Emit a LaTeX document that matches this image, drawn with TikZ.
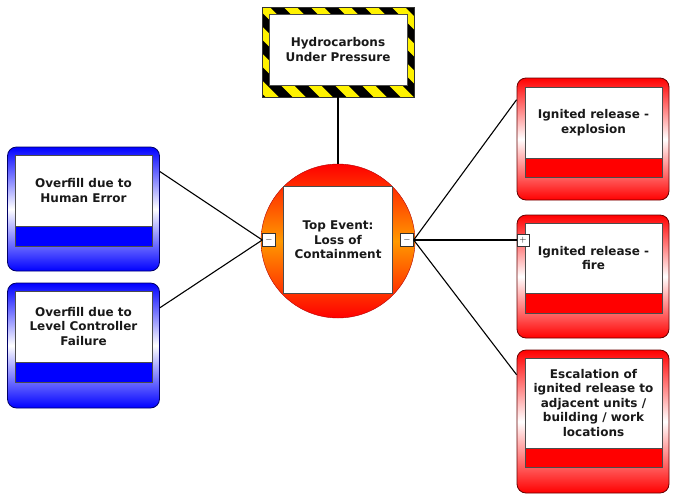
\documentclass[tikz,border=0pt]{standalone}
\usepackage{fontspec}
\setmainfont{DejaVu Sans}
\usetikzlibrary{positioning,calc}

\tikzset{
  txt/.style={font=\bfseries\fontsize{12}{14.5}\selectfont, align=center, text=black!90},
  outerbox/.style={rounded corners=9pt, line width=0.8pt, minimum width=152pt},
  causebox/.style={outerbox, draw=blue!40!black, top color=blue, bottom color=blue, middle color=white},
  conseqbox/.style={outerbox, draw=red!40!black, top color=red, bottom color=red, middle color=white},
  whitebox/.style={draw=black!70, fill=white, line width=0.6pt, minimum width=137pt},
  bluebar/.style={draw=black!70, fill=blue, line width=0.6pt, minimum width=137pt, minimum height=20pt},
  redbar/.style={draw=black!70, fill=red, line width=0.6pt, minimum width=137pt, minimum height=20pt},
  toggle/.style={draw=black!80, fill=white, minimum size=13pt, inner sep=0pt, font=\bfseries\small},
  link/.style={draw=black, line width=1.1pt}
}

\begin{document}
\begin{tikzpicture}[x=1pt, y=-1pt]
  \useasboundingbox (0,0) rectangle (675,499);

  % hazard
  \node[draw=black!80, fill=yellow, minimum width=152pt, minimum height=90pt, line width=0.8pt,
        path picture={
          \foreach \k in {0,...,10}
            \fill[black] ([xshift=\k*27pt-100pt]path picture bounding box.north west)
              -- ++(13.5pt,0pt) -- ++(100pt,-100pt) -- ++(-13.5pt,0pt) -- cycle;
        }] (hazard) at (338,52) {};
  \node[whitebox, minimum width=138pt, minimum height=71pt] (hazardtxt) at (338,49.5)
    {};
  \node[txt] at (hazardtxt) {Hydrocarbons\\Under Pressure};

  % top event
  \node[circle, draw=red!70!black, line width=0.4pt, minimum size=154pt, inner sep=0pt,
        top color=red, bottom color=red, middle color=orange!80!yellow] (top) at (338,241) {};
  \node[whitebox, minimum width=109pt, minimum height=107pt] (toptxt) at (338,240) {};
  \node[txt] at (toptxt) {Top Event:\\Loss of\\Containment};
  \node[toggle] (lminus) at (269,240) {$-$};
  \node[toggle] (rminus) at (407,240) {$-$};

  % threats
  \node[causebox, minimum height=124pt] (c1) at (83.5,209) {};
  \node[whitebox, minimum height=71pt] (c1t) at (83.5,190.5) {};
  \node[bluebar] (c1b) at (83.5,236) {};
  \node[txt] at (c1t) {Overfill due to\\Human Error};

  \node[causebox, minimum height=125pt] (c2) at (83.5,345.5) {};
  \node[whitebox, minimum height=71pt] (c2t) at (83.5,326.5) {};
  \node[bluebar] (c2b) at (83.5,372) {};
  \node[txt] at (c2t) {Overfill due to\\Level Controller\\Failure};

  % consequences
  \node[conseqbox, minimum height=122pt] (q1) at (593,139) {};
  \node[whitebox, minimum height=71pt] (q1t) at (593.5,122.5) {};
  \node[redbar, minimum height=19pt] (q1b) at (593.5,167.5) {};
  \node[txt] at (q1t) {Ignited release -\\explosion};

  \node[conseqbox, minimum height=123pt] (q2) at (593,276.5) {};
  \node[whitebox, minimum height=70pt] (q2t) at (593.5,258) {};
  \node[redbar] (q2b) at (593.5,303) {};
  \node[txt] at (q2t) {Ignited release -\\fire};
  \node[toggle, minimum size=12pt] (plus) at (523,240) {$+$};

  \node[conseqbox, minimum height=143pt] (q3) at (593,421.5) {};
  \node[whitebox, minimum height=90pt] (q3t) at (593.5,403) {};
  \node[redbar, minimum height=19pt] (q3b) at (593.5,457.5) {};
  \node[txt] at (q3t) {Escalation of\\ignited release to\\adjacent units /\\building / work\\locations};

  % connectors
  \draw[link] (hazard.south) -- (top.north);
  \draw[link] (lminus.west) -- ($(c1.north east)!0.2!(c1.south east)$);
  \draw[link] (lminus.west) -- ($(c2.north east)!0.2!(c2.south east)$);
  \draw[link] (rminus.east) -- ($(q1.north west)!0.18!(q1.south west)$);
  \draw[link] (rminus.east) -- (plus.west);
  \draw[link] (rminus.east) -- ($(q3.north west)!0.175!(q3.south west)$);
\end{tikzpicture}
\end{document}
